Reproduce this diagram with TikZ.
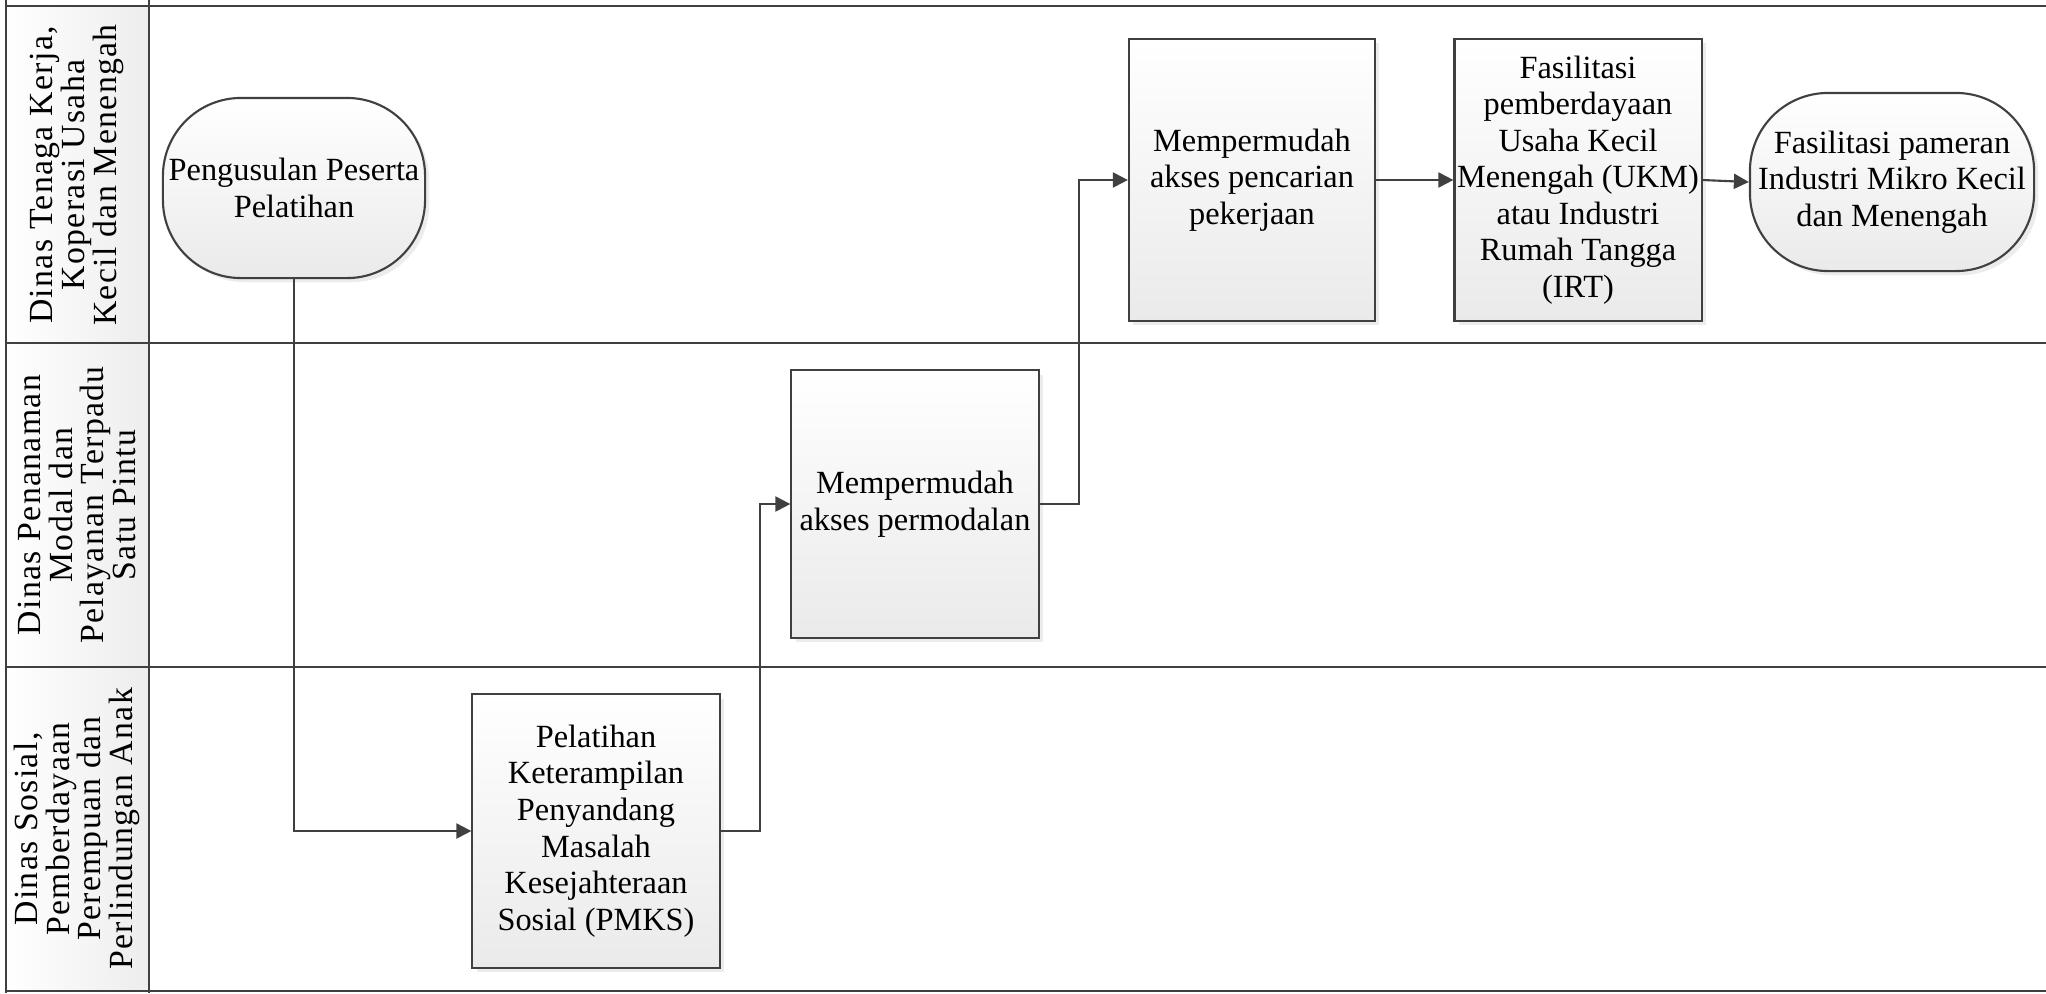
\documentclass[tikz,border=0pt]{standalone}
\usepackage{fontspec}
\setmainfont{Liberation Serif}
\usetikzlibrary{arrows.meta,positioning,shadows}
\definecolor{laneink}{HTML}{404040}
\definecolor{boxfade}{HTML}{EAEAEA}
\definecolor{lanefade}{HTML}{EDEDED}
\newcommand{\boxfont}{\fontsize{9.2}{10.4}\selectfont}
\newcommand{\lanefont}{\fontsize{9.6}{9}\selectfont\addfontfeature{LetterSpace=4}}
\tikzset{
  lanerule/.style={draw=laneink,line width=0.8pt},
  lanehead/.style={rotate=90,align=center,font=\lanefont,inner sep=0pt},
  procbox/.style={draw=laneink,line width=0.6pt,top color=white,bottom color=boxfade,
    drop shadow={shadow xshift=1.2pt,shadow yshift=-1.2pt,opacity=0.15},
    align=center,font=\boxfont,inner sep=0pt},
  termbox/.style={procbox,rounded corners=0.78cm},
  flowline/.style={draw=laneink,line width=0.6pt,-{Triangle[length=1.5mm,width=1.5mm]}},
}

\begin{document}
\begin{tikzpicture}[x=0.01cm,y=-0.01cm]
  \path[use as bounding box] (0,0) rectangle (2046,993);
  % swimlanes
  \fill[left color=white,right color=lanefade] (6,6) rectangle (149,991);
  \foreach \y in {6,343,667,991}
    {\draw[lanerule] (6,\y) -- (2046,\y);}
  \draw[lanerule] (6,0) -- (6,993);
  \draw[lanerule] (149,0) -- (149,993);
  \node[lanehead] (naker) at (77,175) {Dinas Tenaga Kerja,\\Koperasi Usaha\\Kecil dan Menengah};
  \node[lanehead] (dpmptsp) at (77,505) {Dinas Penanaman\\Modal dan\\Pelayanan Terpadu\\Satu Pintu};
  \node[lanehead] (dinsos) at (77,829) {Dinas Sosial,\\Pemberdayaan\\Perempuan dan\\Perlindungan Anak};
  % steps
  \node[termbox,minimum width=2.62cm,minimum height=1.80cm] (usul) at (294,188) {Pengusulan Peserta\\Pelatihan};
  \node[procbox,minimum width=2.47cm,minimum height=2.73cm] (latih) at (596,831) {Pelatihan\\Keterampilan\\Penyandang\\Masalah\\Kesejahteraan\\Sosial (PMKS)};
  \node[procbox,minimum width=2.47cm,minimum height=2.67cm] (modal) at (915,504) {Mempermudah\\akses permodalan};
  \node[procbox,minimum width=2.46cm,minimum height=2.82cm] (kerja) at (1252,180) {Mempermudah\\akses pencarian\\pekerjaan};
  \node[procbox,minimum width=2.47cm,minimum height=2.82cm] (ukm) at (1578,180) {Fasilitasi\\pemberdayaan\\Usaha Kecil\\Menengah (UKM)\\atau Industri\\Rumah Tangga\\(IRT)};
  \node[termbox,minimum width=2.84cm,minimum height=1.78cm] (pameran) at (1892,182) {Fasilitasi pameran\\Industri Mikro Kecil\\dan Menengah};
  % flow
  \draw[flowline] (usul.south) |- (latih.west);
  \draw[flowline] (latih.east) -- ++(39,0) |- (modal.west);
  \draw[flowline] (modal.east) -- ++(39,0) |- (kerja.west);
  \draw[flowline] (kerja) -- (ukm);
  \draw[flowline] (ukm.east) -- (pameran.west);
\end{tikzpicture}
\end{document}
